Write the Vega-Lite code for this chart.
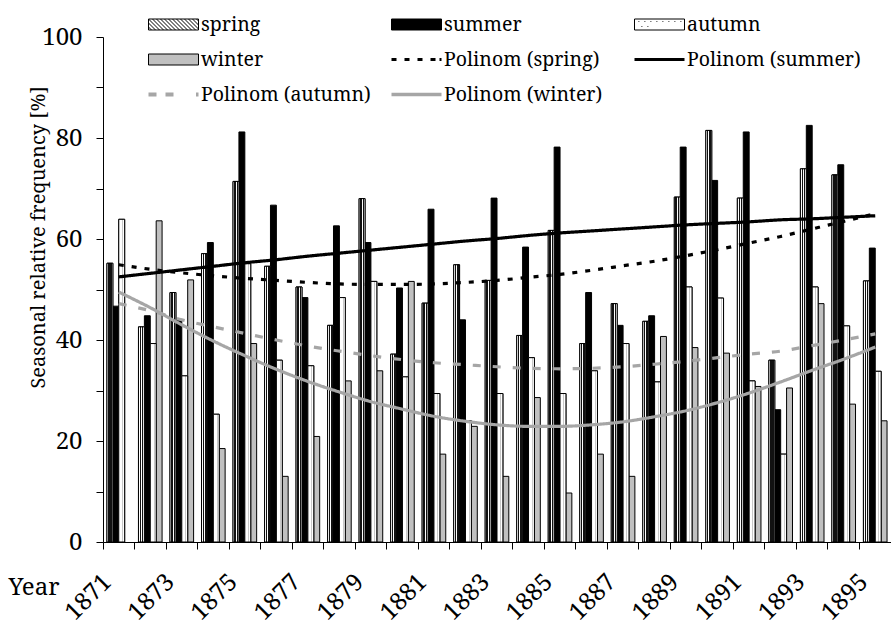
{
  "$schema": "https://vega.github.io/schema/vega-lite/v6.json",
  "width": 788,
  "height": 505,
  "autosize": {"type": "none"},
  "padding": {"left": 103, "top": 37, "right": 0, "bottom": 91},
  "background": "white",
  "config": {
    "view": {"stroke": null},
    "font": "Noto Serif",
    "axis": {"grid": false, "domainColor": "black", "domainWidth": 1, "tickColor": "black", "labelColor": "black", "titleColor": "black", "titleFontWeight": "normal", "labelFont": "Noto Serif", "titleFont": "Noto Serif"}
  },
  "datasets": {
    "bars": [
      {"year": 1871, "series": "spring", "value": 55.2}, {"year": 1871, "series": "summer", "value": 46.7}, {"year": 1871, "series": "autumn", "value": 63.9},
      {"year": 1872, "series": "spring", "value": 42.6}, {"year": 1872, "series": "summer", "value": 44.8}, {"year": 1872, "series": "autumn", "value": 39.3}, {"year": 1872, "series": "winter", "value": 63.6},
      {"year": 1873, "series": "spring", "value": 49.4}, {"year": 1873, "series": "summer", "value": 43.9}, {"year": 1873, "series": "autumn", "value": 32.9}, {"year": 1873, "series": "winter", "value": 51.9},
      {"year": 1874, "series": "spring", "value": 57.1}, {"year": 1874, "series": "summer", "value": 59.3}, {"year": 1874, "series": "autumn", "value": 25.3}, {"year": 1874, "series": "winter", "value": 18.5},
      {"year": 1875, "series": "spring", "value": 71.4}, {"year": 1875, "series": "summer", "value": 81.2}, {"year": 1875, "series": "autumn", "value": 55.1}, {"year": 1875, "series": "winter", "value": 39.3},
      {"year": 1876, "series": "spring", "value": 54.6}, {"year": 1876, "series": "summer", "value": 66.7}, {"year": 1876, "series": "autumn", "value": 36.0}, {"year": 1876, "series": "winter", "value": 13.0},
      {"year": 1877, "series": "spring", "value": 50.5}, {"year": 1877, "series": "summer", "value": 48.4}, {"year": 1877, "series": "autumn", "value": 34.9}, {"year": 1877, "series": "winter", "value": 20.9},
      {"year": 1878, "series": "spring", "value": 42.9}, {"year": 1878, "series": "summer", "value": 62.6}, {"year": 1878, "series": "autumn", "value": 48.4}, {"year": 1878, "series": "winter", "value": 31.9},
      {"year": 1879, "series": "spring", "value": 68.0}, {"year": 1879, "series": "summer", "value": 59.3}, {"year": 1879, "series": "autumn", "value": 51.6}, {"year": 1879, "series": "winter", "value": 33.9},
      {"year": 1880, "series": "spring", "value": 37.2}, {"year": 1880, "series": "summer", "value": 50.3}, {"year": 1880, "series": "autumn", "value": 32.7}, {"year": 1880, "series": "winter", "value": 51.6},
      {"year": 1881, "series": "spring", "value": 47.3}, {"year": 1881, "series": "summer", "value": 65.9}, {"year": 1881, "series": "autumn", "value": 29.4}, {"year": 1881, "series": "winter", "value": 17.4},
      {"year": 1882, "series": "spring", "value": 54.9}, {"year": 1882, "series": "summer", "value": 44.0}, {"year": 1882, "series": "autumn", "value": 24.0}, {"year": 1882, "series": "winter", "value": 22.9},
      {"year": 1883, "series": "spring", "value": 51.8}, {"year": 1883, "series": "summer", "value": 68.1}, {"year": 1883, "series": "autumn", "value": 29.4}, {"year": 1883, "series": "winter", "value": 13.0},
      {"year": 1884, "series": "spring", "value": 40.9}, {"year": 1884, "series": "summer", "value": 58.4}, {"year": 1884, "series": "autumn", "value": 36.5}, {"year": 1884, "series": "winter", "value": 28.6},
      {"year": 1885, "series": "spring", "value": 61.7}, {"year": 1885, "series": "summer", "value": 78.2}, {"year": 1885, "series": "autumn", "value": 29.4}, {"year": 1885, "series": "winter", "value": 9.7},
      {"year": 1886, "series": "spring", "value": 39.3}, {"year": 1886, "series": "summer", "value": 49.4}, {"year": 1886, "series": "autumn", "value": 33.9}, {"year": 1886, "series": "winter", "value": 17.4},
      {"year": 1887, "series": "spring", "value": 47.2}, {"year": 1887, "series": "summer", "value": 42.9}, {"year": 1887, "series": "autumn", "value": 39.3}, {"year": 1887, "series": "winter", "value": 13.0},
      {"year": 1888, "series": "spring", "value": 43.7}, {"year": 1888, "series": "summer", "value": 44.8}, {"year": 1888, "series": "autumn", "value": 31.7}, {"year": 1888, "series": "winter", "value": 40.7},
      {"year": 1889, "series": "spring", "value": 68.3}, {"year": 1889, "series": "summer", "value": 78.2}, {"year": 1889, "series": "autumn", "value": 50.5}, {"year": 1889, "series": "winter", "value": 38.5},
      {"year": 1890, "series": "spring", "value": 81.5}, {"year": 1890, "series": "summer", "value": 71.6}, {"year": 1890, "series": "autumn", "value": 48.3}, {"year": 1890, "series": "winter", "value": 37.4},
      {"year": 1891, "series": "spring", "value": 68.1}, {"year": 1891, "series": "summer", "value": 81.2}, {"year": 1891, "series": "autumn", "value": 31.9}, {"year": 1891, "series": "winter", "value": 30.8},
      {"year": 1892, "series": "spring", "value": 36.0}, {"year": 1892, "series": "summer", "value": 26.2}, {"year": 1892, "series": "autumn", "value": 17.4}, {"year": 1892, "series": "winter", "value": 30.5},
      {"year": 1893, "series": "spring", "value": 73.9}, {"year": 1893, "series": "summer", "value": 82.5}, {"year": 1893, "series": "autumn", "value": 50.5}, {"year": 1893, "series": "winter", "value": 47.2},
      {"year": 1894, "series": "spring", "value": 72.7}, {"year": 1894, "series": "summer", "value": 74.7}, {"year": 1894, "series": "autumn", "value": 42.8}, {"year": 1894, "series": "winter", "value": 27.3},
      {"year": 1895, "series": "spring", "value": 51.7}, {"year": 1895, "series": "summer", "value": 58.2}, {"year": 1895, "series": "autumn", "value": 33.8}, {"year": 1895, "series": "winter", "value": 24.0}
    ],
    "trends": [
      {"year": 1871, "series": "Polinom (spring)", "value": 54.9}, {"year": 1872, "series": "Polinom (spring)", "value": 54.0}, {"year": 1873, "series": "Polinom (spring)", "value": 53.3}, {"year": 1874, "series": "Polinom (spring)", "value": 52.7}, {"year": 1875, "series": "Polinom (spring)", "value": 52.2}, {"year": 1876, "series": "Polinom (spring)", "value": 51.8}, {"year": 1877, "series": "Polinom (spring)", "value": 51.4}, {"year": 1878, "series": "Polinom (spring)", "value": 51.1}, {"year": 1879, "series": "Polinom (spring)", "value": 51.0}, {"year": 1880, "series": "Polinom (spring)", "value": 51.0}, {"year": 1881, "series": "Polinom (spring)", "value": 51.1}, {"year": 1882, "series": "Polinom (spring)", "value": 51.4}, {"year": 1883, "series": "Polinom (spring)", "value": 51.8}, {"year": 1884, "series": "Polinom (spring)", "value": 52.4}, {"year": 1885, "series": "Polinom (spring)", "value": 53.0}, {"year": 1886, "series": "Polinom (spring)", "value": 53.8}, {"year": 1887, "series": "Polinom (spring)", "value": 54.7}, {"year": 1888, "series": "Polinom (spring)", "value": 55.6}, {"year": 1889, "series": "Polinom (spring)", "value": 56.7}, {"year": 1890, "series": "Polinom (spring)", "value": 57.9}, {"year": 1891, "series": "Polinom (spring)", "value": 59.2}, {"year": 1892, "series": "Polinom (spring)", "value": 60.5}, {"year": 1893, "series": "Polinom (spring)", "value": 62.0}, {"year": 1894, "series": "Polinom (spring)", "value": 63.5}, {"year": 1895, "series": "Polinom (spring)", "value": 65.0},
      {"year": 1871, "series": "Polinom (summer)", "value": 52.5}, {"year": 1872, "series": "Polinom (summer)", "value": 53.2}, {"year": 1873, "series": "Polinom (summer)", "value": 53.9}, {"year": 1874, "series": "Polinom (summer)", "value": 54.6}, {"year": 1875, "series": "Polinom (summer)", "value": 55.3}, {"year": 1876, "series": "Polinom (summer)", "value": 55.9}, {"year": 1877, "series": "Polinom (summer)", "value": 56.6}, {"year": 1878, "series": "Polinom (summer)", "value": 57.2}, {"year": 1879, "series": "Polinom (summer)", "value": 57.8}, {"year": 1880, "series": "Polinom (summer)", "value": 58.4}, {"year": 1881, "series": "Polinom (summer)", "value": 59.0}, {"year": 1882, "series": "Polinom (summer)", "value": 59.6}, {"year": 1883, "series": "Polinom (summer)", "value": 60.1}, {"year": 1884, "series": "Polinom (summer)", "value": 60.7}, {"year": 1885, "series": "Polinom (summer)", "value": 61.2}, {"year": 1886, "series": "Polinom (summer)", "value": 61.6}, {"year": 1887, "series": "Polinom (summer)", "value": 62.0}, {"year": 1888, "series": "Polinom (summer)", "value": 62.4}, {"year": 1889, "series": "Polinom (summer)", "value": 62.8}, {"year": 1890, "series": "Polinom (summer)", "value": 63.1}, {"year": 1891, "series": "Polinom (summer)", "value": 63.4}, {"year": 1892, "series": "Polinom (summer)", "value": 63.8}, {"year": 1893, "series": "Polinom (summer)", "value": 64.0}, {"year": 1894, "series": "Polinom (summer)", "value": 64.3}, {"year": 1895, "series": "Polinom (summer)", "value": 64.6},
      {"year": 1871, "series": "Polinom (autumn)", "value": 47.2}, {"year": 1872, "series": "Polinom (autumn)", "value": 45.8}, {"year": 1873, "series": "Polinom (autumn)", "value": 44.0}, {"year": 1874, "series": "Polinom (autumn)", "value": 42.6}, {"year": 1875, "series": "Polinom (autumn)", "value": 41.3}, {"year": 1876, "series": "Polinom (autumn)", "value": 40.0}, {"year": 1877, "series": "Polinom (autumn)", "value": 38.8}, {"year": 1878, "series": "Polinom (autumn)", "value": 37.8}, {"year": 1879, "series": "Polinom (autumn)", "value": 36.9}, {"year": 1880, "series": "Polinom (autumn)", "value": 36.1}, {"year": 1881, "series": "Polinom (autumn)", "value": 35.5}, {"year": 1882, "series": "Polinom (autumn)", "value": 35.1}, {"year": 1883, "series": "Polinom (autumn)", "value": 34.7}, {"year": 1884, "series": "Polinom (autumn)", "value": 34.4}, {"year": 1885, "series": "Polinom (autumn)", "value": 34.3}, {"year": 1886, "series": "Polinom (autumn)", "value": 34.4}, {"year": 1887, "series": "Polinom (autumn)", "value": 34.7}, {"year": 1888, "series": "Polinom (autumn)", "value": 35.2}, {"year": 1889, "series": "Polinom (autumn)", "value": 35.8}, {"year": 1890, "series": "Polinom (autumn)", "value": 36.5}, {"year": 1891, "series": "Polinom (autumn)", "value": 37.2}, {"year": 1892, "series": "Polinom (autumn)", "value": 37.8}, {"year": 1893, "series": "Polinom (autumn)", "value": 38.9}, {"year": 1894, "series": "Polinom (autumn)", "value": 40.0}, {"year": 1895, "series": "Polinom (autumn)", "value": 41.2},
      {"year": 1871, "series": "Polinom (winter)", "value": 49.5}, {"year": 1872, "series": "Polinom (winter)", "value": 46.4}, {"year": 1873, "series": "Polinom (winter)", "value": 43.0}, {"year": 1874, "series": "Polinom (winter)", "value": 39.8}, {"year": 1875, "series": "Polinom (winter)", "value": 36.9}, {"year": 1876, "series": "Polinom (winter)", "value": 34.2}, {"year": 1877, "series": "Polinom (winter)", "value": 31.8}, {"year": 1878, "series": "Polinom (winter)", "value": 29.7}, {"year": 1879, "series": "Polinom (winter)", "value": 27.8}, {"year": 1880, "series": "Polinom (winter)", "value": 26.3}, {"year": 1881, "series": "Polinom (winter)", "value": 24.9}, {"year": 1882, "series": "Polinom (winter)", "value": 23.9}, {"year": 1883, "series": "Polinom (winter)", "value": 23.2}, {"year": 1884, "series": "Polinom (winter)", "value": 22.9}, {"year": 1885, "series": "Polinom (winter)", "value": 22.9}, {"year": 1886, "series": "Polinom (winter)", "value": 23.2}, {"year": 1887, "series": "Polinom (winter)", "value": 23.8}, {"year": 1888, "series": "Polinom (winter)", "value": 24.8}, {"year": 1889, "series": "Polinom (winter)", "value": 26.0}, {"year": 1890, "series": "Polinom (winter)", "value": 27.6}, {"year": 1891, "series": "Polinom (winter)", "value": 29.5}, {"year": 1892, "series": "Polinom (winter)", "value": 31.7}, {"year": 1893, "series": "Polinom (winter)", "value": 34.0}, {"year": 1894, "series": "Polinom (winter)", "value": 36.2}, {"year": 1895, "series": "Polinom (winter)", "value": 38.6}
    ]
  },
  "encoding": {
    "x": {
      "field": "year", "type": "ordinal",
      "scale": {"paddingInner": 0, "paddingOuter": 0},
      "axis": {
        "title": "Year", "titleX": -95, "titleY": 45, "titleAlign": "left", "titleBaseline": "middle", "titleAngle": 0, "titleFontSize": 24,
        "labelAngle": -45, "labelAlign": "right", "labelBaseline": "middle", "labelPadding": 29, "labelOffset": -11, "labelFontSize": 24,
        "labelExpr": "(datum.value - 1871) % 2 === 0 ? datum.label : ''", "labelOverlap": false, "labelFlush": false,
        "bandPosition": 0, "tickSize": 7, "ticks": true
      }
    },
    "y": {
      "field": "value", "type": "quantitative",
      "scale": {"domain": [0, 100], "nice": false},
      "axis": {
        "values": [0, 10, 20, 30, 40, 50, 60, 70, 80, 90, 100],
        "labelExpr": "datum.value % 20 === 0 ? datum.label : ''",
        "tickSize": 7, "labelPadding": 14, "labelFontSize": 24,
        "title": "Seasonal relative frequency  [%]", "titleFontSize": 20, "titleX": -65, "titleY": 200, "titleAlign": "center", "titleBaseline": "middle", "titleAngle": -90
      }
    }
  },
  "layer": [
    {
      "data": {"name": "bars"},
      "mark": {"type": "bar", "stroke": "black", "strokeWidth": 1},
      "encoding": {
        "xOffset": {"field": "series", "type": "nominal", "scale": {"domain": ["spring", "summer", "autumn", "winter"], "paddingInner": 0, "paddingOuter": 0.67}},
        "color": {
          "field": "series", "type": "nominal",
          "scale": {
            "domain": ["Polinom (spring)", "Polinom (summer)", "Polinom (autumn)", "Polinom (winter)", "spring", "summer", "autumn", "winter"],
            "range": ["#000000", "#000000", "#a6a6a6", "#a6a6a6", "#808080", "#000000", "#ffffff", "#c0c0c0"]
          },
          "legend": null
        }
      }
    },
    {
      "data": {"name": "bars"},
      "transform": [{"filter": "datum.series === 'spring'"}],
      "mark": {"type": "bar", "stroke": "black", "strokeWidth": 1,
        "fill": {"gradient": "linear", "x1": 0, "y1": 0, "x2": 1, "y2": 0, "stops": [
          {"offset": 0, "color": "#ffffff"}, {"offset": 0.2, "color": "#ffffff"}, {"offset": 0.2, "color": "#111111"}, {"offset": 0.45, "color": "#111111"},
          {"offset": 0.45, "color": "#ffffff"}, {"offset": 0.6, "color": "#ffffff"}, {"offset": 0.6, "color": "#111111"}, {"offset": 0.85, "color": "#111111"},
          {"offset": 0.85, "color": "#ffffff"}, {"offset": 1, "color": "#ffffff"}]}},
      "encoding": {
        "xOffset": {"field": "series", "type": "nominal", "scale": {"domain": ["spring", "summer", "autumn", "winter"], "paddingInner": 0, "paddingOuter": 0.67}}
      }
    },
    {
      "data": {"name": "bars"},
      "transform": [{"filter": "datum.series === 'autumn'"}],
      "mark": {"type": "bar", "stroke": "black", "strokeWidth": 1,
        "fill": {"gradient": "linear", "x1": 0, "y1": 0, "x2": 1, "y2": 0, "stops": [
          {"offset": 0, "color": "#ffffff"}, {"offset": 0.55, "color": "#ffffff"}, {"offset": 0.55, "color": "#c8c8c8"}, {"offset": 0.72, "color": "#c8c8c8"},
          {"offset": 0.72, "color": "#ffffff"}, {"offset": 1, "color": "#ffffff"}]}},
      "encoding": {
        "xOffset": {"field": "series", "type": "nominal", "scale": {"domain": ["spring", "summer", "autumn", "winter"], "paddingInner": 0, "paddingOuter": 0.67}}
      }
    },
    {
      "data": {"name": "trends"},
      "mark": {"type": "line", "interpolate": "monotone", "strokeWidth": 3.2},
      "encoding": {
        "color": {"field": "series", "type": "nominal", "legend": null},
        "strokeDash": {
          "field": "series", "type": "nominal",
          "scale": {"domain": ["Polinom (spring)", "Polinom (summer)", "Polinom (autumn)", "Polinom (winter)"], "range": [[5, 8], [1, 0], [8, 12], [1, 0]]},
          "legend": null
        }
      }
    },
    {
      "data": {"name": "bars"},
      "mark": {"type": "point", "filled": true, "opacity": 0},
      "encoding": {
        "shape": {
          "field": "series", "type": "nominal",
          "scale": {
            "domain": ["spring", "summer", "autumn", "winter", "Polinom (spring)", "Polinom (summer)", "Polinom (autumn)", "Polinom (winter)"],
            "range": [
              "M-1,-0.55H4V0.55H-1Z M-1,0.25L-0.7,0.55 M-1,-0.15L-0.3,0.55 M-1,-0.55L0.1,0.55 M-0.6,-0.55L0.5,0.55 M-0.2,-0.55L0.9,0.55 M0.2,-0.55L1.3,0.55 M0.6,-0.55L1.7,0.55 M1,-0.55L2.1,0.55 M1.4,-0.55L2.5,0.55 M1.8,-0.55L2.9,0.55 M2.2,-0.55L3.3,0.55 M2.6,-0.55L3.7,0.55 M3,-0.55L4,0.45 M3.4,-0.55L4,0.05 M3.8,-0.55L4,-0.35",
              "M-1,-0.55H4V0.55H-1Z",
              "M-1,-0.55H4V0.55H-1Z M-0.6,-0.3H-0.52 M0,-0.3H0.08 M0.6,-0.3H0.68 M1.2,-0.3H1.28 M1.8,-0.3H1.88 M2.4,-0.3H2.48 M3,-0.3H3.08 M3.6,-0.3H3.68 M-0.3,0.2H-0.22 M0.3,0.2H0.38",
              "M-1,-0.55H4V0.55H-1Z",
              "M-1,-0.15H-0.5V0.15H-1Z M0.3,-0.15H0.8V0.15H0.3Z M1.6,-0.15H2.1V0.15H1.6Z M2.9,-0.15H3.4V0.15H2.9Z M3.8,-0.15H4V0.15H3.8Z",
              "M-1,-0.15H4V0.15H-1Z",
              "M-1,-0.2H-0.2V0.2H-1Z M0.7,-0.2H1.5V0.2H0.7Z M3.75,-0.2H4V0.2H3.75Z",
              "M-1,-0.18H4V0.18H-1Z"
            ]
          },
          "legend": {
            "title": null, "orient": "none", "legendX": 45, "legendY": -23, "columns": 3, "direction": "horizontal", "gridAlign": "all",
            "columnPadding": 14, "rowPadding": 15, "labelFont": "Noto Serif", "labelFontSize": 19.5, "labelColor": "black",
            "labelOffset": 32, "labelLimit": 400, "symbolSize": 400, "symbolOpacity": 1, "symbolStrokeWidth": 1
          }
        },
        "fill": {
          "field": "series", "type": "nominal",
          "scale": {
            "domain": ["spring", "summer", "autumn", "winter", "Polinom (spring)", "Polinom (summer)", "Polinom (autumn)", "Polinom (winter)"],
            "range": ["#ffffff", "#000000", "#ffffff", "#c0c0c0", "#000000", "#000000", "#a6a6a6", "#a6a6a6"]
          },
          "legend": {
            "title": null, "orient": "none", "legendX": 45, "legendY": -23, "columns": 3, "direction": "horizontal", "gridAlign": "all",
            "columnPadding": 14, "rowPadding": 15, "labelFont": "Noto Serif", "labelFontSize": 19.5, "labelColor": "black",
            "labelOffset": 32, "labelLimit": 400, "symbolSize": 400, "symbolOpacity": 1, "symbolStrokeWidth": 1
          }
        },
        "stroke": {
          "field": "series", "type": "nominal",
          "scale": {
            "domain": ["spring", "summer", "autumn", "winter", "Polinom (spring)", "Polinom (summer)", "Polinom (autumn)", "Polinom (winter)"],
            "range": ["#000000", "#000000", "#000000", "#000000", "transparent", "transparent", "transparent", "transparent"]
          },
          "legend": {
            "title": null, "orient": "none", "legendX": 45, "legendY": -23, "columns": 3, "direction": "horizontal", "gridAlign": "all",
            "columnPadding": 14, "rowPadding": 15, "labelFont": "Noto Serif", "labelFontSize": 19.5, "labelColor": "black",
            "labelOffset": 32, "labelLimit": 400, "symbolSize": 400, "symbolOpacity": 1, "symbolStrokeWidth": 1
          }
        }
      }
    }
  ]
}
